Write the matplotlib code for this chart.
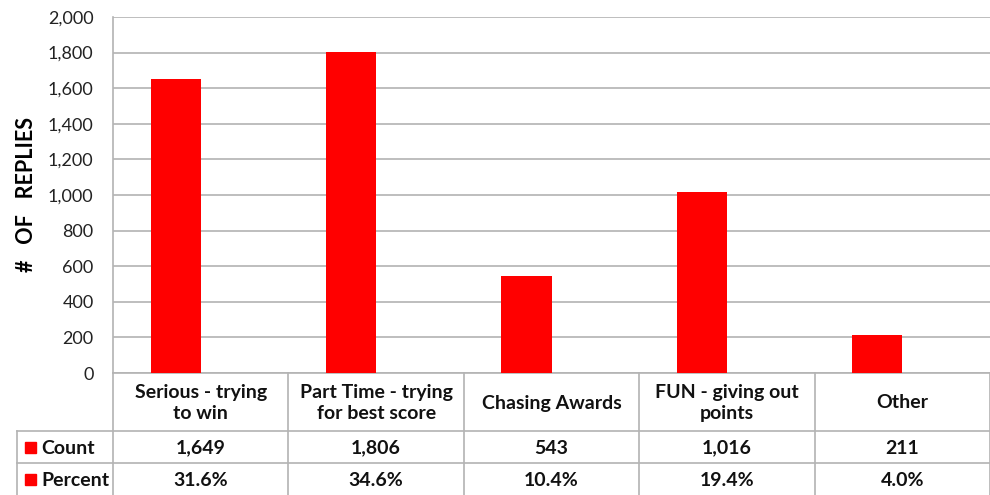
import numpy as np
import matplotlib
matplotlib.use('Agg')
import matplotlib.pyplot as plt
from matplotlib.lines import Line2D
from matplotlib.patches import Rectangle

# ---- data ----
categories = ['Serious - trying\nto win', 'Part Time - trying\nfor best score',
              'Chasing Awards', 'FUN - giving out\npoints', 'Other']
counts = [1649, 1806, 543, 1016, 211]
percents = [0.316, 0.346, 0.104, 0.194, 0.040]
count_labels = ['1,649', '1,806', '543', '1,016', '211']
percent_labels = ['31.6%', '34.6%', '10.4%', '19.4%', '4.0%']
yticks = np.arange(0, 2001, 200)

RED = '#ff0000'
GRID = '#b3b3b3'
W, H = 990, 495

plt.rcParams['font.family'] = ['Lato', 'DejaVu Sans']

fig = plt.figure(figsize=(9.9, 4.95), dpi=100)

# plot area in pixels
left, right, top, bottom = 113, 990, 17, 373
ax = fig.add_axes([left / W, 1 - bottom / H, (right - left) / W, (bottom - top) / H])

x = np.arange(len(categories))
bw = 0.286
ax.bar(x - bw / 2, counts, width=bw, color=RED, zorder=3)
ax.bar(x + bw / 2, percents, width=bw, color=RED, zorder=3)

ax.set_xlim(-0.5, len(categories) - 0.5)
ax.set_ylim(0, 2000)
ax.set_yticks(yticks)
ax.set_yticklabels([f'{v:,}' for v in yticks], fontsize=13, color='#222222')
ax.set_xticks([])
ax.yaxis.grid(True, color=GRID, linewidth=1.2, zorder=0)
ax.tick_params(axis='y', length=0, pad=14)
for s in ['top', 'right']:
    ax.spines[s].set_visible(False)
ax.spines['left'].set_color(GRID)
ax.spines['bottom'].set_color(GRID)
ax.spines['left'].set_linewidth(1.2)
ax.spines['bottom'].set_linewidth(1.2)
ax.set_ylabel('#   OF   REPLIES', fontsize=15.5, fontweight='bold', labelpad=8)

# ---- data table below (pixel coordinates overlay) ----
ov = fig.add_axes([0, 0, 1, 1])
ov.set_xlim(0, W)
ov.set_ylim(H, 0)
ov.axis('off')

col_w = (right - left) / len(categories)
col_edges = [left + i * col_w for i in range(len(categories) + 1)]
row1, row2 = 431, 463
lw = 1.2

# vertical lines
for ce in col_edges:
    ov.add_line(Line2D([ce, ce], [bottom, H], color=GRID, lw=lw))
ov.add_line(Line2D([17, 17], [row1, H], color=GRID, lw=lw))
# horizontal lines
for ry in (row1, row2):
    ov.add_line(Line2D([17, right], [ry, ry], color=GRID, lw=lw))

tkw = dict(fontsize=14, fontweight='bold', color='#111111', ha='center', va='center')
for i, cat in enumerate(categories):
    cx = (col_edges[i] + col_edges[i + 1]) / 2
    ov.text(cx, (bottom + row1) / 2 + 1, cat, linespacing=1.25, **tkw)
    ov.text(cx, (row1 + row2) / 2 + 1, count_labels[i], **tkw)
    ov.text(cx, (row2 + H) / 2 + 1, percent_labels[i], **tkw)

for label, ry in (('Count', (row1 + row2) / 2), ('Percent', (row2 + H) / 2)):
    ov.add_patch(Rectangle((25, ry - 5), 11, 11, color=RED))
    ov.text(41, ry + 1, label, fontsize=14, fontweight='bold', color='#111111',
            ha='left', va='center')

fig.savefig('out.png', dpi=100)
